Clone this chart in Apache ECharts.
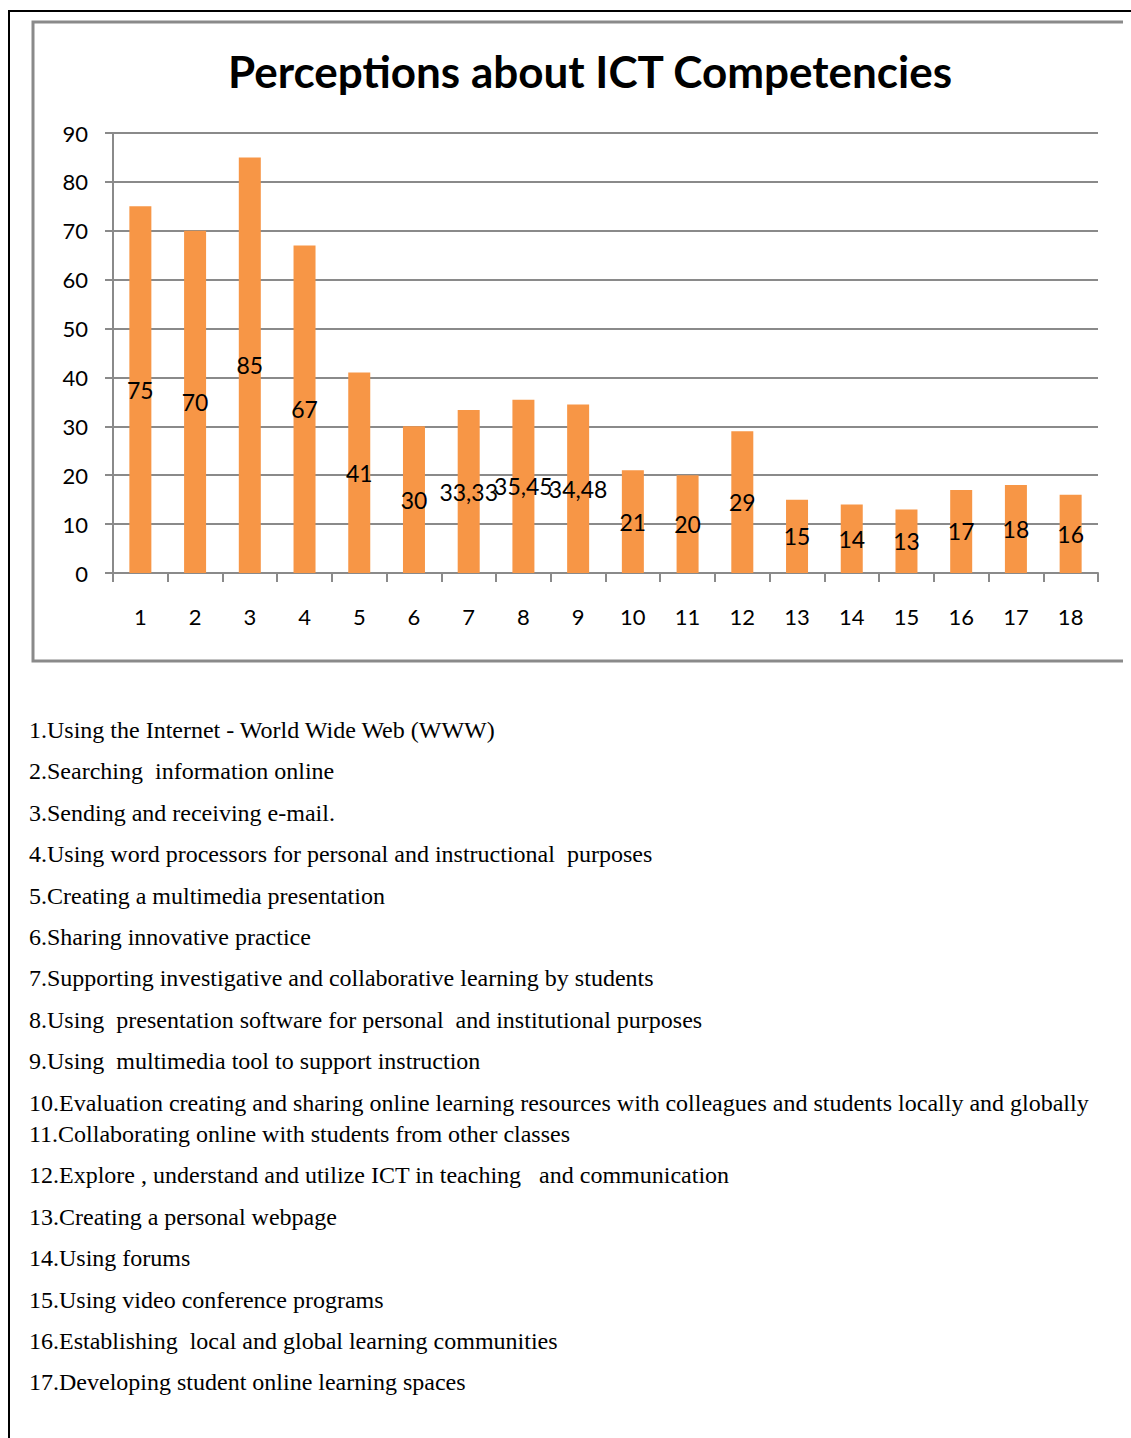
<!DOCTYPE html>
<html>
<head>
<meta charset="utf-8">
<script src="https://cdn.jsdelivr.net/npm/echarts@6/dist/echarts.min.js"></script>
<style>
  html, body { margin: 0; padding: 0; background: #fff; }
  #wrap { position: relative; width: 1131px; height: 1438px; overflow: hidden; }
  #chart { position: absolute; left: 0; top: 0; width: 1131px; height: 700px; }
  .item { position: absolute; left: 29px; font-family: "Liberation Serif", "Times New Roman", serif;
          font-size: 24px; color: #000; white-space: pre; line-height: 28px; }
  #outerTop { position: absolute; left: 8px; top: 10px; width: 1123px; height: 2px; background: #000; }
  #outerLeft { position: absolute; left: 8px; top: 10px; width: 2px; height: 1428px; background: #000; }
</style>
</head>
<body>
<div id="wrap">
  <div id="chart"></div>
  <div id="outerTop"></div>
  <div id="outerLeft"></div>
  <div id="list"></div>
</div>
<script>
const chartTitle = "Perceptions about ICT Competencies";
const categories = ["1","2","3","4","5","6","7","8","9","10","11","12","13","14","15","16","17","18"];
const values = [75, 70, 85, 67, 41, 30, 33.33, 35.45, 34.48, 21, 20, 29, 15, 14, 13, 17, 18, 16];
const yTicks = { min: 0, max: 90, interval: 10 };
const legendItems = [
  "1.Using the Internet - World Wide Web (WWW)",
  "2.Searching  information online",
  "3.Sending and receiving e-mail.",
  "4.Using word processors for personal and instructional  purposes",
  "5.Creating a multimedia presentation",
  "6.Sharing innovative practice",
  "7.Supporting investigative and collaborative learning by students",
  "8.Using  presentation software for personal  and institutional purposes",
  "9.Using  multimedia tool to support instruction",
  "10.Evaluation creating and sharing online learning resources with colleagues and students locally and globally",
  "11.Collaborating online with students from other classes",
  "12.Explore , understand and utilize ICT in teaching   and communication",
  "13.Creating a personal webpage",
  "14.Using forums",
  "15.Using video conference programs",
  "16.Establishing  local and global learning communities",
  "17.Developing student online learning spaces"
];

// list text
const list = document.getElementById('list');
legendItems.forEach((t, i) => {
  const d = document.createElement('div');
  d.className = 'item';
  const center = 731 + i * 41.4 - (i >= 10 ? 10 : 0);
  d.style.top = (center - 15) + 'px';
  d.textContent = t;
  list.appendChild(d);
});

const gray = '#8a8a8a';
const chart = echarts.init(document.getElementById('chart'), null, { renderer: 'svg' });
chart.setOption({
  animation: false,
  backgroundColor: 'transparent',
  title: {
    text: chartTitle,
    left: 223,
    top: 44,
    textStyle: { fontFamily: 'Lato', fontWeight: 'bold', fontSize: 44, color: '#000' }
  },
  grid: { left: 113, right: 33, top: 133, bottom: 127, containLabel: false },
  xAxis: {
    type: 'category',
    data: categories,
    boundaryGap: true,
    axisLine: { show: true, lineStyle: { color: gray, width: 2 } },
    axisTick: { show: true, alignWithLabel: false, length: 9, lineStyle: { color: gray, width: 2 } },
    axisLabel: { margin: 32, fontFamily: 'Lato', fontSize: 22, color: '#000' }
  },
  yAxis: {
    type: 'value',
    min: yTicks.min, max: yTicks.max, interval: yTicks.interval,
    axisLine: { show: true, lineStyle: { color: gray, width: 2 } },
    axisTick: { show: true, length: 8, lineStyle: { color: gray, width: 2 } },
    splitLine: { show: true, lineStyle: { color: gray, width: 2 } },
    axisLabel: { margin: 25, fontFamily: 'Lato', fontSize: 22, color: '#000' }
  },
  series: [{
    type: 'bar',
    data: values,
    barWidth: 22,
    itemStyle: { color: '#F79646' },
    label: {
      show: true,
      position: 'inside',
      fontFamily: 'Lato',
      fontSize: 23,
      color: '#000',
      formatter: p => String(p.value).replace('.', ',')
    },
    z: 3
  }],
  graphic: [{
    type: 'polyline',
    shape: { points: [[1123, 22], [33, 22], [33, 661], [1123, 661]] },
    style: { stroke: gray, lineWidth: 3, fill: null },
    z: 10
  }]
});
</script>
</body>
</html>
